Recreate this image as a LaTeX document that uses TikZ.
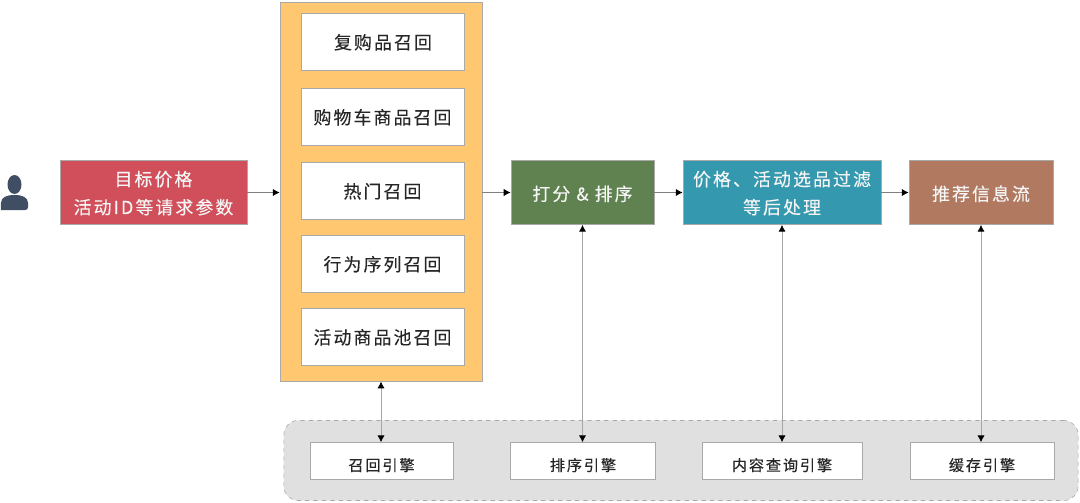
\documentclass[tikz,border=0pt]{standalone}
\usepackage{fontspec}
\setmainfont{Noto Sans CJK SC}[LetterSpace=12,FakeBold=0.25]
\usepackage{tikz}
\usetikzlibrary{arrows.meta,positioning,calc}
\definecolor{piros}{HTML}{D04F5A}
\definecolor{narancs}{HTML}{FFC76F}
\definecolor{zold}{HTML}{5F8250}
\definecolor{kek}{HTML}{3499AE}
\definecolor{barna}{HTML}{B07960}
\definecolor{szurke}{HTML}{E0E0E0}
\definecolor{keret}{HTML}{A9A9A9}
\definecolor{alak}{HTML}{3F4E62}
\tikzset{
  dob/.style={draw=keret,line width=0.5pt,inner sep=0pt,align=center,text=black!85,
    font=\fontsize{12.7}{20}\selectfont},
  lep/.style={dob,text=white!96!black,minimum height=1.6cm,text height=31.6pt},
  egy/.style={lep,text height=12.6pt},
  hiv/.style={dob,fill=white,minimum width=4.08cm,minimum height=1.41cm,text height=11.1pt},
  mot/.style={dob,fill=white,minimum height=0.92cm,text height=15pt,font=\fontsize{10.8}{14}\selectfont},
  nyil/.style={-{Latex[length=1.7mm,width=1.8mm,black]},line width=0.5pt,draw=black!50},
  ketnyil/.style={{Latex[length=1.7mm,width=1.8mm,black]}-{Latex[length=1.7mm,width=1.8mm,black]},line width=0.6pt,draw=black!35},
}
\begin{document}
\begin{tikzpicture}[x=0.025cm,y=-0.025cm]
  \useasboundingbox (0,0) rectangle (1080,502);
  % user icon
  \fill[alak] (14.5,184.5) ellipse (7 and 9.5);
  \fill[alak] (1,210) -- (1,203) .. controls (1,197) and (7,195) .. (14.5,195)
    .. controls (22,195) and (28,197) .. (28,203) -- (28,207)
    .. controls (28,209) and (27,210) .. (25,210) -- cycle;
  % engines
  \node[draw=keret,dashed,fill=szurke,rounded corners=10pt,minimum width=19.85cm,minimum height=2cm,inner sep=0pt] (motor) at (681,460.5) {};
  \node[mot,minimum width=3.58cm] (mot1) at (381.5,461) {召回引擎};
  \node[mot,minimum width=3.62cm] (mot2) at (583,461) {排序引擎};
  \node[mot,minimum width=4cm] (mot3) at (782,461) {内容查询引擎};
  \node[mot,minimum width=3.6cm] (mot4) at (982,461) {缓存引擎};
  % recall column
  \node[dob,fill=narancs,minimum width=5.05cm,minimum height=9.48cm] (hivas) at (381,191.5) {};
  \node[hiv] (h1) at (383,42) {复购品召回};
  \node[hiv] (h2) at (382.5,117) {购物车商品召回};
  \node[hiv] (h3) at (382.5,191) {热门召回};
  \node[hiv] (h4) at (382.5,264) {行为序列召回};
  \node[hiv] (h5) at (382.5,337) {活动商品池召回};
  % main flow
  \node[lep,fill=piros,minimum width=4.68cm] (kero) at (153.5,192.5) {目标价格\\活动ID等请求参数};
  \node[egy,fill=zold,minimum width=3.58cm] (rend) at (582.5,192.5) {打分 \& 排序};
  \node[lep,fill=kek,minimum width=4.95cm] (szur) at (782,192.5) {价格、活动选品过滤\\等后处理};
  \node[egy,fill=barna,minimum width=3.6cm] (lista) at (981,192.5) {推荐信息流};
  \draw[nyil] (kero.east) -- (kero.east -| hivas.west);
  \draw[nyil] (hivas.east |- rend.west) -- (rend.west);
  \draw[nyil] (rend.east) -- (szur.west);
  \draw[nyil] (szur.east) -- (lista.west);
  \draw[ketnyil] (hivas.south) -- (hivas.south |- mot1.north);
  \draw[ketnyil] (rend.south) -- (rend.south |- mot2.north);
  \draw[ketnyil] (szur.south) -- (szur.south |- mot3.north);
  \draw[ketnyil] (lista.south) -- (lista.south |- mot4.north);
\end{tikzpicture}
\end{document}
